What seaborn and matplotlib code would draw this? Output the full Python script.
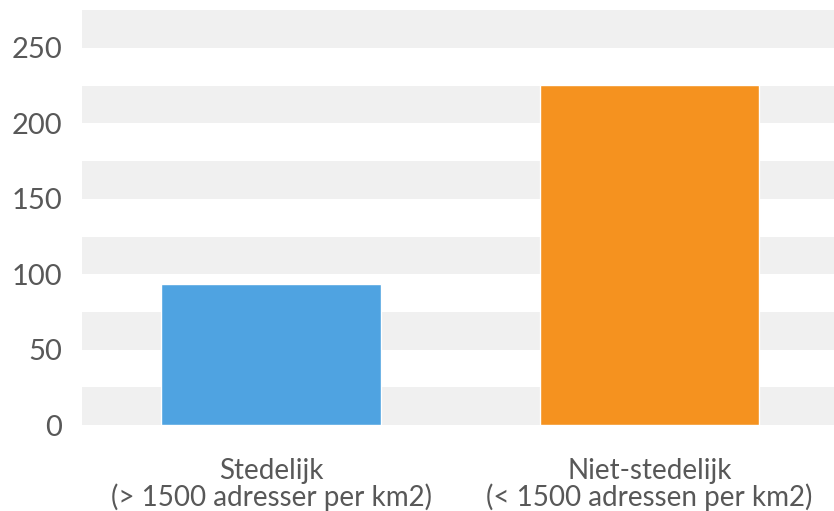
import matplotlib
matplotlib.use("Agg")
import matplotlib.pyplot as plt
import seaborn as sns
import pandas as pd

categories = ["Stedelijk\n(> 1500 adresser per km2)",
              "Niet-stedelijk\n(< 1500 adressen per km2)"]
values = [93.5, 225.5]
colors = ["#4fa3e1", "#f5921f"]
y_ticks = [0, 50, 100, 150, 200, 250]

sns.set_theme(style="white")
plt.rcParams["font.family"] = ["Lato", "DejaVu Sans"]

df = pd.DataFrame({"categorie": categories, "waarde": values})

fig = plt.figure(figsize=(8.34, 5.11), dpi=100)
ax = fig.add_axes([0.098, 0.168, 0.908, 0.812])

# alternating horizontal bands every 25 units
for lo in range(0, 275, 50):
    ax.axhspan(lo, lo + 25, color="#f0f0f0", lw=0, zorder=0)

sns.barplot(data=df, x="categorie", y="waarde", hue="categorie",
            palette=colors, width=0.58, saturation=1, legend=False,
            ax=ax, zorder=2)

ax.set_ylim(0, 275)
ax.set_xlim(-0.5, 1.5)
ax.set_yticks(y_ticks)
ax.set_xlabel("")
ax.set_ylabel("")
for s in ax.spines.values():
    s.set_visible(False)
ax.tick_params(axis="y", length=0, pad=14, labelsize=21, labelcolor="#585858")
ax.tick_params(axis="x", length=0, pad=24, labelsize=20, labelcolor="#585858")
for lbl in ax.get_xticklabels():
    lbl.set_linespacing(0.95)

fig.savefig("out.png", dpi=100, facecolor="white")
